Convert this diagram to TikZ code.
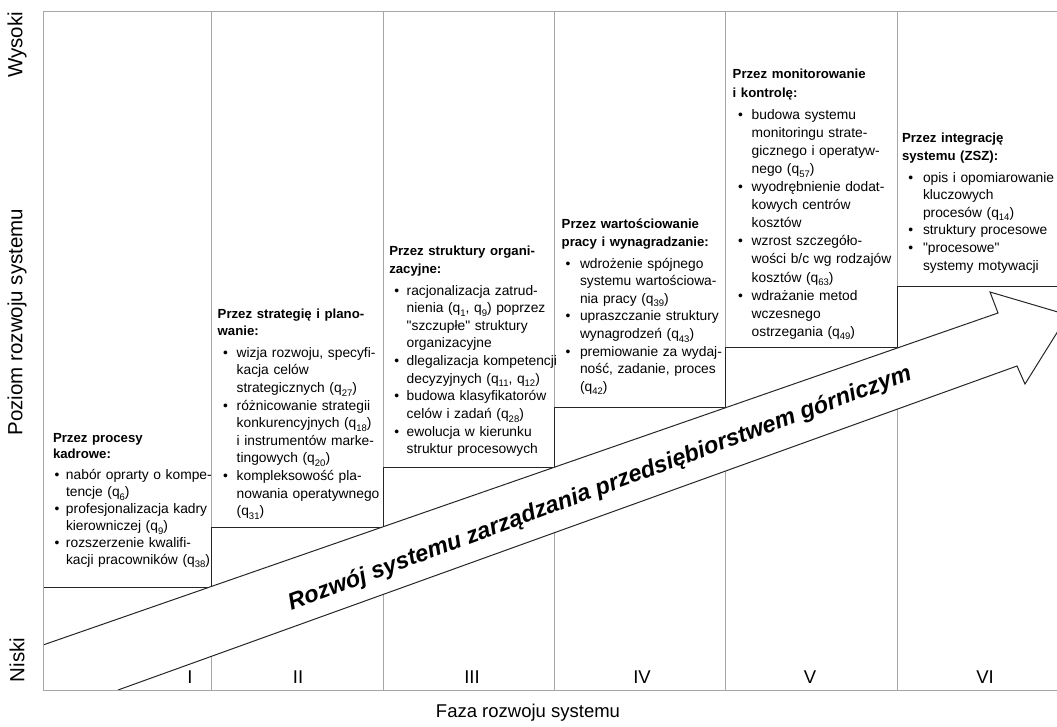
\documentclass[tikz,border=0pt]{standalone}
\usepackage{fontspec}
\setmainfont{Liberation Sans}

% indents of the bullet lists inside the phase boxes
\newlength\bulind
\newlength\txtind
\newcommand\setind[2]{\setlength\bulind{#1}\setlength\txtind{#2}}
\newcommand\bl{\par\hangindent=\txtind\hangafter=1\noindent\makebox[\txtind][l]{\hspace*{\bulind}\textbullet}\ignorespaces}
\newcommand\nl{\unskip\break}
\newcommand\qs[1]{q\raisebox{-3.6pt}{\fontsize{9.5}{10}\selectfont #1}}
\newcommand\qt{\textquotedbl}
\newcommand\ttl[1]{{\bfseries\fontsize{13.2}{\lnpitch}\selectfont #1\par}\vspace{4pt}}

\begin{document}
\begin{tikzpicture}[x=1pt,y=-1pt,
  gridline/.style={draw=black!35, line width=1pt},
  stepline/.style={draw=black!85, line width=1pt},
  arrowline/.style={draw=black!85, line width=1pt, line join=miter},
  blocktext/.style={anchor=base west, inner sep=0pt, outer sep=0pt, text width=200pt, align=left,
    font=\def\lnpitch{#1}\fontsize{13.8}{#1}\selectfont},
  axislabel/.style={font=\fontsize{20.5}{24}\selectfont, rotate=90, inner sep=0pt},
  phase/.style={font=\fontsize{18.5}{22}\selectfont, inner sep=0pt, anchor=base},
]
\useasboundingbox (0,0) rectangle (1057,727);
\clip (0,0) rectangle (1057,727);

% frame and phase columns
\draw[gridline] (43,12) -- (1070,12);
\foreach \x in {211,383,554,725,897} \draw[gridline] (\x,12) -- (\x,690);

% staircase of development levels
\draw[stepline] (43,587) -| (211,527) -| (383,467) -| (554,407) -| (725,347) -| (897,287) -- (1070,287);

% development arrow
\fill[white] (43,645) -- (998,313) -- (990,292) -- (1068,315) -- (1025,384) -- (1017,366) -- (118,690) -- (43,690) -- cycle;
\draw[arrowline] (43,645) -- (998,313) -- (990,292) -- (1068,315) -- (1025,384) -- (1017,366) -- (118,690);

% axes
\draw[gridline] (43,12) -- (43,690) -- (1070,690);

\node[rotate=20.4, inner sep=0pt, font=\fontsize{23.4}{27}\selectfont\bfseries\itshape] (trend) at (600,489)
  {Rozwój systemu zarządzania przedsiębiorstwem górniczym};

% phase I
\node[blocktext=16.9] (kadry) at (53,442) {\setind{1.5pt}{13pt}%
\ttl{Przez procesy\nl kadrowe:}%
\bl nabór oprarty o kompe-\nl tencje (\qs{6})
\bl profesjonalizacja kadry\nl kierowniczej (\qs{9})
\bl rozszerzenie kwalifi-\nl kacji pracowników (\qs{38})\par};

% phase II
\node[blocktext=17.6] (strategia) at (217.7,318) {\setind{5.5pt}{19pt}%
\ttl{Przez strategię i plano-\nl wanie:}%
\bl wizja rozwoju, specyfi-\nl kacja celów\nl strategicznych (\qs{27})
\bl różnicowanie strategii\nl konkurencyjnych (\qs{18})\nl i instrumentów marke-\nl tingowych (\qs{20})
\bl kompleksowość pla-\nl nowania operatywnego\nl (\qs{31})\par};

% phase III
\node[blocktext=17.6] (struktury) at (389.3,256) {\setind{5pt}{17.4pt}%
\ttl{Przez struktury organi-\nl zacyjne:}%
\bl racjonalizacja zatrud-\nl nienia (\qs{1}, \qs{9}) poprzez\nl \qt szczupłe\qt{} struktury\nl organizacyjne
\bl dlegalizacja kompetencji\nl decyzyjnych (\qs{11}, \qs{12})
\bl budowa klasyfikatorów\nl celów i zadań (\qs{28})
\bl ewolucja w kierunku\nl struktur procesowych\par};

% phase IV
\node[blocktext=17.6] (placa) at (561.7,229) {\setind{4pt}{18.3pt}%
\ttl{Przez wartościowanie\nl pracy i wynagradzanie:}%
\bl wdrożenie spójnego\nl systemu wartościowa-\nl nia pracy (\qs{39})
\bl upraszczanie struktury\nl wynagrodzeń (\qs{43})
\bl premiowanie za wydaj-\nl ność, zadanie, proces\nl (\qs{42})\par};

% phase V
\node[blocktext=18.1] (kontrola) at (732.7,79) {\setind{5.5pt}{19pt}%
\ttl{Przez monitorowanie\nl i kontrolę:}%
\bl budowa systemu\nl monitoringu strate-\nl gicznego i operatyw-\nl nego (\qs{57})
\bl wyodrębnienie dodat-\nl kowych centrów\nl kosztów
\bl wzrost szczegóło-\nl wości b/c wg rodzajów\nl kosztów (\qs{63})
\bl wdrażanie metod\nl wczesnego\nl ostrzegania (\qs{49})\par};

% phase VI
\node[blocktext=17.6] (integracja) at (902,143) {\setind{6.3pt}{21pt}%
\ttl{Przez integrację\nl systemu (ZSZ):}%
\bl opis i opomiarowanie\nl kluczowych\nl procesów (\qs{14})
\bl struktury procesowe
\bl \qt procesowe\qt\nl systemy motywacji\par};

% phase numbers
\node[phase] (f1) at (190,683) {I};
\node[phase] (f2) at (298,683) {II};
\node[phase] (f3) at (472,683) {III};
\node[phase] (f4) at (642,683) {IV};
\node[phase] (f5) at (810,683) {V};
\node[phase] (f6) at (985,683) {VI};

% axis titles
\node[axislabel] (wysoki) at (17,45) {Wysoki};
\node[axislabel] (poziom) at (17,322) {Poziom rozwoju systemu};
\node[axislabel] (niski) at (17,660) {Niski};
\node[font=\fontsize{18.5}{22}\selectfont, inner sep=0pt] (faza) at (528,713) {Faza rozwoju systemu};
\end{tikzpicture}
\end{document}
